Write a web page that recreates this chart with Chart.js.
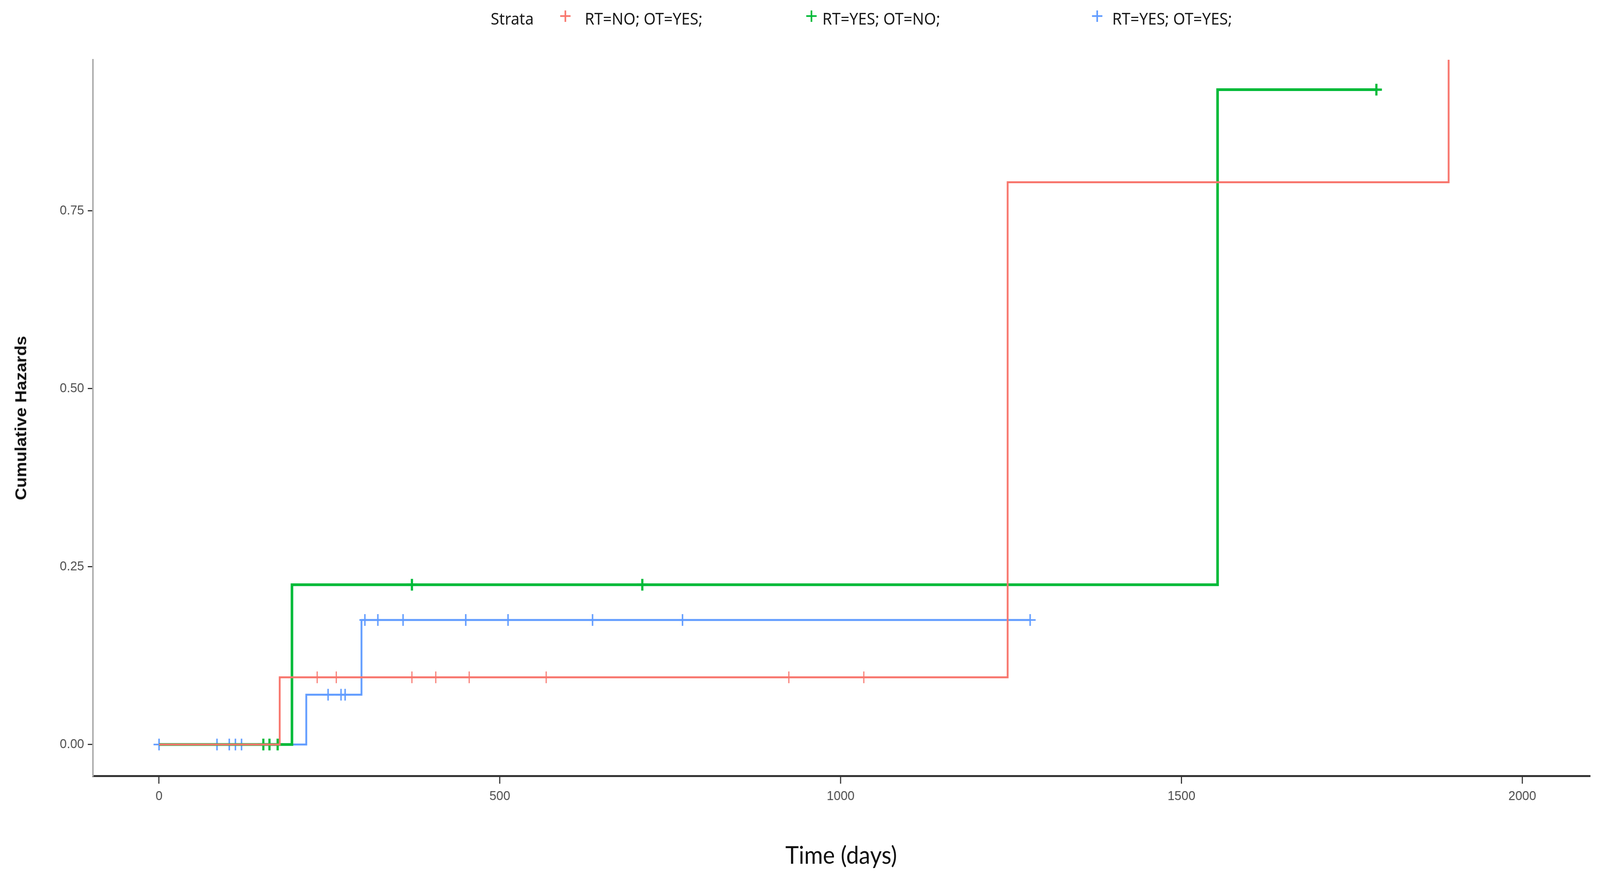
<!DOCTYPE html>
<html>
<head>
<meta charset="utf-8">
<script src="https://cdn.jsdelivr.net/npm/chart.js@4"></script>
<style>
  html, body { margin: 0; padding: 0; background: #fff; overflow: hidden; font-family: "Noto Sans", Lato, sans-serif; }
  #wrap { position: absolute; left: 0; top: 0; width: 4356px; height: 2250px; transform-origin: 0 0; }
  #legend { position: absolute; top: 18px; left: 1336px; font-size: 42px; color: #1a1a1a; }
  #legend span { position: absolute; white-space: nowrap; top: 0; }
  #ytitle { position: absolute; left: 56px; top: 1070px; transform: translate(-50%, -50%) rotate(-90deg);
            font-size: 44px; font-weight: bold; white-space: nowrap; color: #111; font-family: "Liberation Sans", Arial, sans-serif; }
  #xtitle { position: absolute; left: 2290px; top: 2150px; transform: translateX(-50%);
            font-size: 62px; white-space: nowrap; color: #111; font-family: Lato, "Noto Sans", sans-serif; }
</style>
</head>
<body>
<div id="wrap">
  <canvas id="chart" width="4356" height="2250"></canvas>
  <div id="legend"></div>
  <div id="ytitle">Cumulative Hazards</div>
  <div id="xtitle">Time (days)</div>
</div>
<script>
// strata
const strata = ['RT=NO; OT=YES;', 'RT=YES; OT=NO;', 'RT=YES; OT=YES;'];
const colors = ['#F8766D', '#00BA38', '#619CFF'];

// step curves (time, cumulative hazard)
const redTimes = [0, 177, 1245, 1892];
const redHaz = [0, 0.0945, 0.79, 1.5];
const greenTimes = [0, 195, 1553, 1786];
const greenHaz = [0, 0.2245, 0.92, 0.92];
const blueTimes = [0, 216, 297, 1278];
const blueHaz = [0, 0.07, 0.175, 0.175];

// censor marks
const redCensT = [232, 260, 371, 406, 455, 568, 924, 1034];
const redCensH = [0.0945, 0.0945, 0.0945, 0.0945, 0.0945, 0.0945, 0.0945, 0.0945];
const greenCensT = [153, 162, 174, 371, 709, 1786];
const greenCensH = [0, 0, 0, 0.2245, 0.2245, 0.92];
const blueCensT = [0, 85, 103, 112, 121, 248, 267, 273, 302, 321, 358, 450, 512, 636, 768, 1278];
const blueCensH = [0, 0, 0, 0, 0, 0.07, 0.07, 0.07, 0.175, 0.175, 0.175, 0.175, 0.175, 0.175, 0.175, 0.175];

const xTicks = [0, 500, 1000, 1500, 2000];
const yTicks = [0, 0.25, 0.5, 0.75];

// fit the fixed 4356x2250 layout to whatever viewport we get
const wrap = document.getElementById('wrap');
wrap.style.transform = `scale(${window.innerWidth / 4356}, ${window.innerHeight / 2250})`;

const pts = (xs, ys) => xs.map((x, i) => ({ x: x, y: ys[i] }));

function stepSet(xs, ys, color, width) {
    return { type: 'line', data: pts(xs, ys), borderColor: color, borderWidth: width,
             stepped: 'before', pointRadius: 0, fill: false };
}
function censSet(xs, ys, color, width) {
    return { type: 'scatter', data: pts(xs, ys), borderColor: color, backgroundColor: color,
             pointStyle: 'cross', pointRadius: 15, borderWidth: width };
}

new Chart(document.getElementById('chart'), {
    type: 'scatter',
    data: {
        datasets: [
            stepSet(redTimes, redHaz, colors[0], 5),
            stepSet(greenTimes, greenHaz, colors[1], 7),
            stepSet(blueTimes, blueHaz, colors[2], 5),
            censSet(redCensT, redCensH, colors[0], 3),
            censSet(greenCensT, greenCensH, colors[1], 6),
            censSet(blueCensT, blueCensH, colors[2], 4)
        ]
    },
    options: {
        responsive: false,
        devicePixelRatio: 1,
        animation: false,
        layout: { padding: { top: 153, right: 28, left: 0, bottom: 0 } },
        plugins: { legend: { display: false }, tooltip: { enabled: false } },
        scales: {
            x: {
                type: 'linear', min: -97, max: 2099,
                afterBuildTicks: s => { s.ticks = xTicks.map(v => ({ value: v })); },
                afterFit: s => { s.height = 264; },
                grid: { drawOnChartArea: false, drawTicks: true, tickLength: 20, color: '#333', lineWidth: 3 },
                border: { color: '#333', width: 5 },
                ticks: { color: '#4d4d4d', autoSkip: false, maxRotation: 0,
                         font: { size: 34, family: 'Liberation Sans' }, padding: 12,
                         callback: v => String(v) }
            },
            y: {
                type: 'linear', min: -0.044, max: 0.962,
                afterBuildTicks: s => { s.ticks = yTicks.map(v => ({ value: v })); },
                afterFit: s => { s.width = 253; },
                grid: { drawOnChartArea: false, drawTicks: true, tickLength: 14, color: '#333', lineWidth: 3 },
                border: { color: '#aaa', width: 4 },
                ticks: { color: '#4d4d4d', autoSkip: false, font: { size: 34, family: 'Liberation Sans' }, padding: 10,
                         callback: v => v.toFixed(2) }
            }
        }
    }
});

// legend (ggplot style, one row)
const legend = document.getElementById('legend');
const offsets = [[186, 256], [856, 903], [1634, 1692]];
legend.innerHTML = '<span style="left:0">Strata</span>' + strata.map((s, i) =>
    `<span style="left:${offsets[i][0]}px;top:-8px;color:${colors[i]};font-size:60px;line-height:60px">+</span>` +
    `<span style="left:${offsets[i][1]}px">${s}</span>`).join('');
</script>
</body>
</html>
